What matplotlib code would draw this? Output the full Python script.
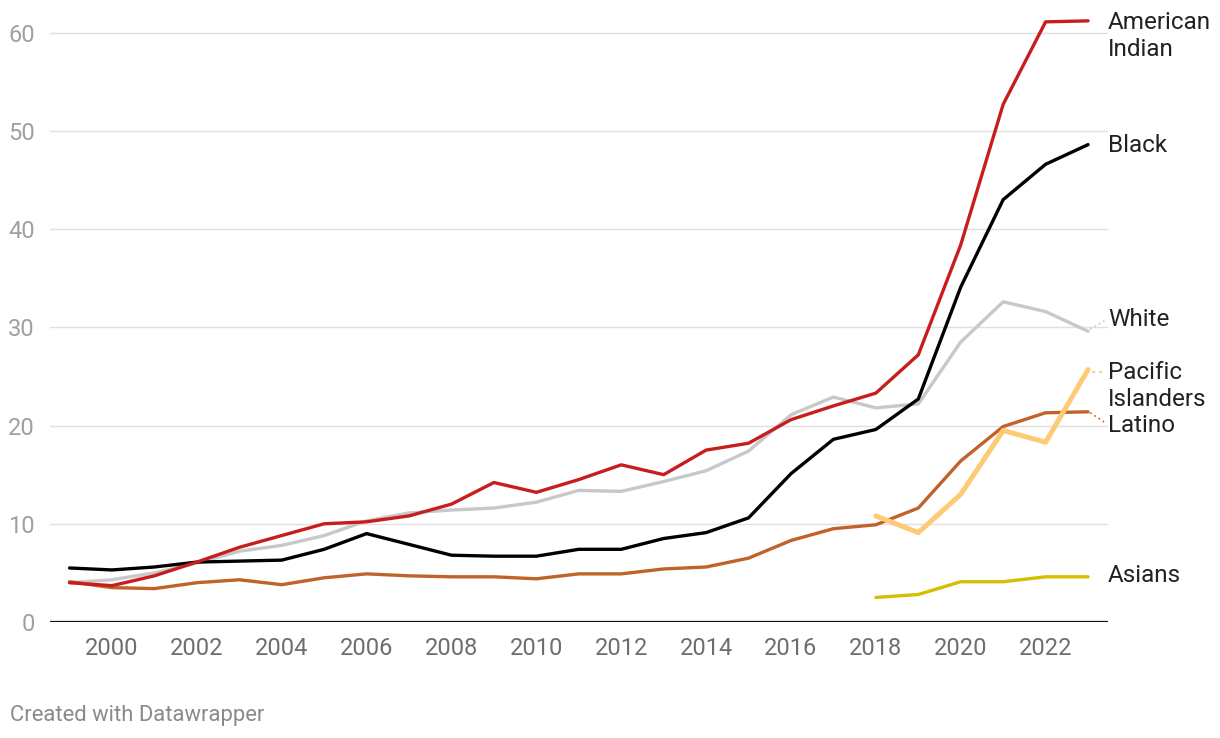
import matplotlib
matplotlib.use("Agg")
import matplotlib.pyplot as plt
import numpy as np

plt.rcParams['font.family'] = ['Roboto', 'DejaVu Sans']

years = list(range(1999, 2024))
american_indian = [4.0, 3.7, 4.7, 6.1, 7.6, 8.8, 10.0, 10.2, 10.8, 12.0, 14.2, 13.2, 14.5,
                   16.0, 15.0, 17.5, 18.2, 20.6, 22.0, 23.3, 27.2, 38.4, 52.7, 61.1, 61.2]
black = [5.5, 5.3, 5.6, 6.1, 6.2, 6.3, 7.4, 9.0, 7.9, 6.8, 6.7, 6.7, 7.4,
         7.4, 8.5, 9.1, 10.6, 15.1, 18.6, 19.6, 22.7, 34.1, 43.0, 46.6, 48.6]
white = [4.0, 4.3, 5.0, 6.0, 7.2, 7.8, 8.8, 10.3, 11.1, 11.4, 11.6, 12.2, 13.4,
         13.3, 14.3, 15.4, 17.4, 21.1, 22.9, 21.8, 22.2, 28.5, 32.6, 31.6, 29.6]
latino = [4.1, 3.5, 3.4, 4.0, 4.3, 3.8, 4.5, 4.9, 4.7, 4.6, 4.6, 4.4, 4.9,
          4.9, 5.4, 5.6, 6.5, 8.3, 9.5, 9.9, 11.6, 16.4, 19.9, 21.3, 21.4]
years_recent = list(range(2018, 2024))
pacific = [10.8, 9.1, 13.0, 19.5, 18.3, 25.7]
asians = [2.5, 2.8, 4.1, 4.1, 4.6, 4.6]

x_ticks = list(range(2000, 2023, 2))
y_ticks = [0, 10, 20, 30, 40, 50, 60]

fig = plt.figure(figsize=(12.2, 7.38), dpi=100)
ax = fig.add_axes([50/1220, 1-622/738, (1108-50)/1220, (622-13)/738])

c_red = '#c71e1d'
c_black = '#000000'
c_grey = '#c8c8c8'
c_lat = '#c0622a'
c_pac = '#ffca76'
c_asi = '#d4bf00'

kw = dict(solid_capstyle='round', solid_joinstyle='round')
ax.plot(years, white, color=c_grey, lw=2.4, zorder=3, **kw)
ax.plot(years, latino, color=c_lat, lw=2.4, zorder=3, **kw)
ax.plot(years_recent, asians, color=c_asi, lw=2.4, zorder=3, **kw)
ax.plot(years_recent, pacific, color=c_pac, lw=3.6, zorder=3, **kw)
ax.plot(years, black, color=c_black, lw=2.4, zorder=4, **kw)
ax.plot(years, american_indian, color=c_red, lw=2.4, zorder=5, **kw)

ax.set_xlim(1998.54, 2023.47)
ax.set_ylim(0, 62)

for yv in y_ticks[1:]:
    ax.axhline(yv, color='#e0e0e0', lw=1, zorder=1)
ax.axhline(0, color='#111111', lw=1.6, zorder=6)

for s in ax.spines.values():
    s.set_visible(False)
ax.set_xticks(x_ticks)
ax.set_xticklabels([str(v) for v in x_ticks], color='#6e6e6e', fontsize=17)
ax.set_yticks(y_ticks)
ax.set_yticklabels([str(v) for v in y_ticks], color='#a0a0a0', fontsize=17)
ax.tick_params(axis='both', length=0)
ax.tick_params(axis='x', pad=11)
ax.tick_params(axis='y', pad=11)

lx = 2023.47
lab_kw = dict(fontsize=17.5, color='#222222', va='center', ha='left', clip_on=False, linespacing=1.22)
ax.text(lx, 59.7, 'American\nIndian', **lab_kw)
ax.text(lx, 48.5, 'Black', **lab_kw)
ax.text(lx, 30.8, 'White', **lab_kw)
ax.text(lx, 24.0, 'Pacific\nIslanders', **lab_kw)
ax.text(lx, 20.0, 'Latino', **lab_kw)
ax.text(lx, 4.7, 'Asians', **lab_kw)

# connectors
ax.plot([2023.05, 2023.4], [white[-1] + 0.2, 30.7], color=c_grey, lw=1.2, ls=(0, (1, 2)), clip_on=False)
ax.plot([2023.1, 2023.4], [pacific[-1] - 0.2, pacific[-1] - 0.2], color=c_pac, lw=1.2, ls=(0, (2, 2)), clip_on=False)
ax.plot([2023.05, 2023.4], [latino[-1] - 0.1, 20.3], color=c_lat, lw=1.2, ls=(0, (1, 2)), clip_on=False)

fig.text(10/1220, 1-715/738, 'Created with Datawrapper', fontsize=15.8, color='#8a8a8a', va='center', ha='left')

fig.savefig('out.png', dpi=100)
